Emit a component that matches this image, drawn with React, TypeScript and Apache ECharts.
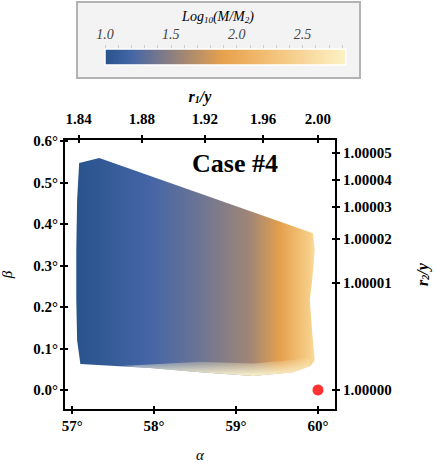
import React, { useEffect, useRef } from "react";
import * as echarts from "echarts";

// ---- data ----
const alphaTicks = [57, 58, 59, 60];
const betaTicks = [0, 0.1, 0.2, 0.3, 0.4, 0.5, 0.6];
const r1Labels = ["1.84", "1.88", "1.92", "1.96", "2.00"];
const r1TickAlpha = [57.077, 57.85, 58.62, 59.33, 60.0];
const r2Labels = ["1.00000", "1.00001", "1.00002", "1.00003", "1.00004", "1.00005"];
const r2TickBeta = [0, 0.258, 0.364, 0.441, 0.506, 0.571];

// region boundary (alpha in degrees, beta in degrees)
const shapeAlpha = [57.085, 57.33, 59.94, 59.96, 59.93, 59.9, 59.93, 59.95, 59.96, 59.91, 59.7, 59.21, 58.56, 57.95, 57.1, 57.06, 57.05, 57.05, 57.06];
const shapeBeta = [0.547, 0.559, 0.378, 0.337, 0.265, 0.217, 0.137, 0.096, 0.072, 0.058, 0.043, 0.034, 0.043, 0.053, 0.063, 0.12, 0.217, 0.337, 0.458];

// bottom light fringe
const fringeAlpha = [57.6, 58.56, 59.21, 59.7, 59.9, 59.91, 59.7, 59.21, 58.56, 57.95, 57.6];
const fringeBeta = [0.058, 0.068, 0.064, 0.073, 0.083, 0.058, 0.043, 0.034, 0.043, 0.053, 0.058];

// horizontal colour stops across region
const gradAlpha = [57.06, 57.95, 58.56, 59.17, 59.54, 59.9, 59.99];
const gradColors = ["#28548c", "#4565a6", "#6c7594", "#a08676", "#e6a04c", "#f6cf88", "#fbe3ac"];

// colour bar
const cbMin = 1.0;
const cbMax = 2.83;
const cbLabels = [1.0, 1.5, 2.0, 2.5];
const cbMinorTicks = [1.0, 1.1, 1.2, 1.3, 1.4, 1.5, 1.6, 1.7, 1.8, 1.9, 2.0, 2.1, 2.2, 2.3, 2.4, 2.5, 2.6, 2.7, 2.8];
const cmapValues = [1.0, 1.2, 1.5, 1.9, 2.3, 2.83];
const cmapColors = ["#27538c", "#4466a6", "#8b7f80", "#e8a14c", "#f4c47c", "#fdf2c6"];

const point = [60.0, 0.0];

const tickFont = {
  fontFamily: "Liberation Serif",
  fontWeight: "bold" as const,
  fontSize: 15,
  color: "#000",
};

export default function App() {
  const ref = useRef<HTMLDivElement>(null);
  useEffect(() => {
    if (!ref.current) return;
    const chart = echarts.init(ref.current, null, { renderer: "svg" });

    const lineStyle = { color: "#000", width: 2 };
    const hiddenLabel = { show: false };
    const nameRich = {
      i: { fontFamily: "Liberation Serif", fontStyle: "italic", fontWeight: "bold", fontSize: 16, color: "#000" },
      s: { fontFamily: "Liberation Serif", fontStyle: "italic", fontWeight: "bold", fontSize: 10, color: "#000", padding: [6, 0, 0, 0] },
    };

    const option: any = {
      animation: false,
      backgroundColor: "#fff",
      graphic: [
        {
          type: "rect",
          shape: { x: 77, y: 2, width: 283, height: 76 },
          style: { fill: "#f3f3f3", stroke: "#b3b3b3", lineWidth: 2 },
          z: -10,
        },
        {
          type: "text",
          x: 218,
          y: 16,
          style: {
            text: "{a|Log}{s|10}{a|(M/M}{s|2}{a|)}",
            align: "center",
            verticalAlign: "middle",
            rich: {
              a: { fontFamily: "Liberation Serif", fontStyle: "italic", fontSize: 14, fill: "#000" },
              s: { fontFamily: "Liberation Serif", fontStyle: "italic", fontSize: 9, fill: "#000", padding: [8, 0, 0, 0] },
            },
          },
        },
        {
          type: "text",
          left: 192,
          top: 150,
          style: {
            text: "Case #4",
            fontFamily: "Liberation Serif",
            fontWeight: "bold",
            fontSize: 26,
            fill: "#000",
          },
        },
      ],
      grid: [
        { left: 64, right: 100, top: 139, bottom: 53, containLabel: false, outerBoundsMode: "none" },
        { left: 105, width: 241, top: 49, height: 16, containLabel: false, outerBoundsMode: "none" },
      ],
      xAxis: [
        {
          type: "value",
          gridIndex: 0,
          position: "bottom",
          min: 56.9,
          max: 60.22,
          axisLine: { show: true, onZero: false, lineStyle },
          axisTick: { show: true, length: 4, lineStyle, customValues: alphaTicks },
          axisLabel: { ...tickFont, margin: 8, customValues: alphaTicks, formatter: (v: number) => Math.round(v) + "°" },
          splitLine: { show: false },
          name: "α",
          nameLocation: "middle",
          nameGap: 37,
          nameTextStyle: { fontFamily: "Liberation Serif", fontStyle: "italic", fontSize: 15, color: "#000" },
        },
        {
          type: "value",
          gridIndex: 0,
          position: "top",
          min: 56.9,
          max: 60.22,
          axisLine: { show: true, onZero: false, lineStyle },
          axisTick: { show: true, length: 4, lineStyle, customValues: r1TickAlpha },
          axisLabel: {
            ...tickFont,
            margin: 13,
            customValues: r1TickAlpha,
            formatter: (v: number) => {
              const i = r1TickAlpha.findIndex((a) => Math.abs(a - v) < 1e-6);
              return i >= 0 ? r1Labels[i] : "";
            },
          },
          splitLine: { show: false },
          name: "{i|r}{s|1}{i|/y}",
          nameLocation: "middle",
          nameGap: 35,
          nameTextStyle: { rich: nameRich },
        },
        {
          type: "value",
          gridIndex: 0,
          position: "bottom",
          min: 56.9,
          max: 60.22,
          axisLine: { show: false, onZero: false },
          axisTick: { show: true, inside: true, length: 4, lineStyle, customValues: alphaTicks },
          axisLabel: hiddenLabel,
          splitLine: { show: false },
        },
        {
          type: "value",
          gridIndex: 0,
          position: "top",
          min: 56.9,
          max: 60.22,
          axisLine: { show: false, onZero: false },
          axisTick: { show: true, inside: true, length: 4, lineStyle, customValues: r1TickAlpha },
          axisLabel: hiddenLabel,
          splitLine: { show: false },
        },
        {
          type: "value",
          gridIndex: 1,
          position: "top",
          min: cbMin,
          max: cbMax,
          axisLine: { show: false, onZero: false },
          axisTick: { show: true, length: 4, lineStyle: { color: "#cfcfcf", width: 1 }, customValues: cbMinorTicks },
          axisLabel: {
            fontFamily: "Liberation Serif",
            fontStyle: "italic",
            fontSize: 14,
            color: "#444",
            margin: 8,
            customValues: cbLabels,
            formatter: (v: number) => v.toFixed(1),
          },
          splitLine: { show: false },
        },
      ],
      yAxis: [
        {
          type: "value",
          gridIndex: 0,
          position: "left",
          min: -0.048,
          max: 0.605,
          axisLine: { show: true, onZero: false, lineStyle },
          axisTick: { show: true, length: 4, lineStyle, customValues: betaTicks },
          axisLabel: { ...tickFont, margin: 6, customValues: betaTicks, formatter: (v: number) => v.toFixed(1) + "°" },
          splitLine: { show: false },
          name: "β",
          nameLocation: "middle",
          nameGap: 50,
          nameRotate: 90,
          nameTextStyle: { fontFamily: "Liberation Serif", fontStyle: "italic", fontSize: 15, color: "#000" },
        },
        {
          type: "value",
          gridIndex: 0,
          position: "right",
          min: -0.048,
          max: 0.605,
          axisLine: { show: true, onZero: false, lineStyle },
          axisTick: { show: true, length: 4, lineStyle, customValues: r2TickBeta },
          axisLabel: {
            ...tickFont,
            margin: 7,
            customValues: r2TickBeta,
            formatter: (v: number) => {
              const i = r2TickBeta.findIndex((b) => Math.abs(b - v) < 1e-6);
              return i >= 0 ? r2Labels[i] : "";
            },
          },
          splitLine: { show: false },
          name: "{i|r}{s|2}{i|/y}",
          nameLocation: "middle",
          nameGap: 78,
          nameRotate: 90,
          nameTextStyle: { rich: nameRich },
        },
        {
          type: "value",
          gridIndex: 0,
          position: "left",
          min: -0.048,
          max: 0.605,
          axisLine: { show: false, onZero: false },
          axisTick: { show: true, inside: true, length: 4, lineStyle, customValues: betaTicks },
          axisLabel: hiddenLabel,
          splitLine: { show: false },
        },
        {
          type: "value",
          gridIndex: 0,
          position: "right",
          min: -0.048,
          max: 0.605,
          axisLine: { show: false, onZero: false },
          axisTick: { show: true, inside: true, length: 4, lineStyle, customValues: r2TickBeta },
          axisLabel: hiddenLabel,
          splitLine: { show: false },
        },
        {
          type: "value",
          gridIndex: 1,
          min: 0,
          max: 1,
          show: false,
        },
      ],
      series: [
        {
          type: "custom",
          xAxisIndex: 0,
          yAxisIndex: 0,
          data: [0],
          silent: true,
          renderItem: (params: any, api: any) => {
            const pts = shapeAlpha.map((a, i) => api.coord([a, shapeBeta[i]]));
            const x0 = api.coord([gradAlpha[0], 0])[0];
            const x1 = api.coord([gradAlpha[gradAlpha.length - 1], 0])[0];
            const stops = gradAlpha.map((a, i) => ({
              offset: (api.coord([a, 0])[0] - x0) / (x1 - x0),
              color: gradColors[i],
            }));
            const fpts = fringeAlpha.map((a, i) => api.coord([a, fringeBeta[i]]));
            const yTop = api.coord([0, 0.08])[1];
            const yBot = api.coord([0, 0.034])[1];
            return {
              type: "group",
              children: [
                {
                  type: "polygon",
                  shape: { points: pts, smooth: 0 },
                  style: { fill: new echarts.graphic.LinearGradient(x0, 0, x1, 0, stops, true) },
                },
                {
                  type: "polygon",
                  shape: { points: fpts },
                  style: {
                    fill: new echarts.graphic.LinearGradient(0, yTop, 0, yBot, [
                      { offset: 0, color: "rgba(250,242,205,0)" },
                      { offset: 1, color: "rgba(250,244,210,1)" },
                    ], true),
                  },
                },
              ],
            };
          },
        },
        {
          type: "scatter",
          xAxisIndex: 0,
          yAxisIndex: 0,
          data: [point],
          symbolSize: 11,
          itemStyle: { color: "#ff0000" },
          z: 5,
        },
        {
          type: "custom",
          xAxisIndex: 4,
          yAxisIndex: 4,
          data: [0],
          silent: true,
          renderItem: (params: any, api: any) => {
            const p0 = api.coord([cbMin, 1]);
            const p1 = api.coord([cbMax, 0]);
            const stops = cmapValues.map((v, i) => ({
              offset: (v - cbMin) / (cbMax - cbMin),
              color: cmapColors[i],
            }));
            return {
              type: "rect",
              shape: { x: p0[0], y: p0[1], width: p1[0] - p0[0], height: p1[1] - p0[1] },
              style: {
                fill: new echarts.graphic.LinearGradient(0, 0, 1, 0, stops),
                stroke: "#ffffff",
                lineWidth: 1.5,
              },
            };
          },
        },
      ],
    };
    chart.setOption(option);
    return () => chart.dispose();
  }, []);
  return (
    <div
      ref={ref}
      style={{ position: "fixed", left: 0, top: 0, width: 436, height: 463 }}
    />
  );
}
